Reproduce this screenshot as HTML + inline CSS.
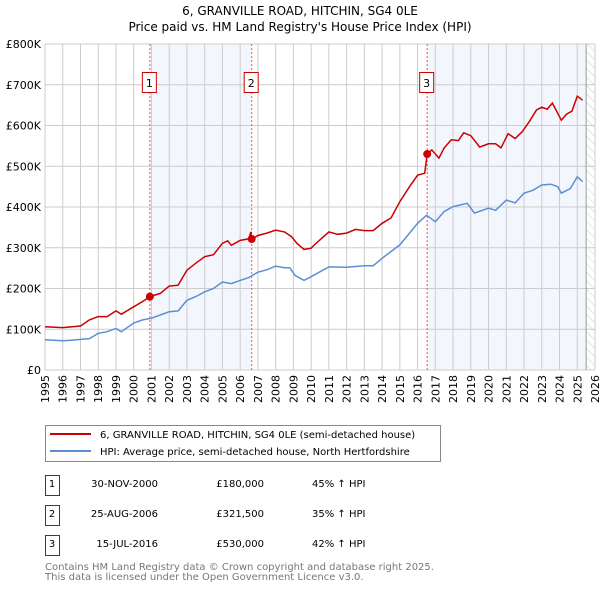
<!DOCTYPE html>
<html><head><meta charset="utf-8"><style>
body{margin:0;background:#fff;font-family:"DejaVu Sans","Liberation Sans",sans-serif;}
svg text{font-family:"DejaVu Sans","Liberation Sans",sans-serif;}
</style></head><body>
<svg id="c" width="600" height="590" viewBox="0 0 600 590" xmlns="http://www.w3.org/2000/svg">
<defs><pattern id="hatch" width="6" height="6" patternUnits="userSpaceOnUse" patternTransform="rotate(-45)"><line x1="0" y1="0" x2="0" y2="6" stroke="#ccc" stroke-width="1"/></pattern></defs>
<text x="300" y="15" text-anchor="middle" font-size="12">6, GRANVILLE ROAD, HITCHIN, SG4 0LE</text>
<text x="300" y="31" text-anchor="middle" font-size="12">Price paid vs. HM Land Registry's House Price Index (HPI)</text>
<g id="plot"></g>
<g id="legend">
<rect x="45.5" y="425.5" width="395" height="36" fill="#fff" stroke="#888"/>
<line x1="50" y1="434" x2="91" y2="434" stroke="#cc0000" stroke-width="2"/>
<text x="100" y="438" font-size="10">6, GRANVILLE ROAD, HITCHIN, SG4 0LE (semi-detached house)</text>
<line x1="50" y1="451" x2="91" y2="451" stroke="#5b8fd4" stroke-width="2"/>
<text x="100" y="455" font-size="10">HPI: Average price, semi-detached house, North Hertfordshire</text>
</g>
<g id="table" font-size="10"></g>
<text x="45" y="570" font-size="10" fill="#777">Contains HM Land Registry data © Crown copyright and database right 2025.</text>
<text x="45" y="580" font-size="10" fill="#777">This data is licensed under the Open Government Licence v3.0.</text>
</svg>
<script>
const yearTicks=[1995,1996,1997,1998,1999,2000,2001,2002,2003,2004,2005,2006,2007,2008,2009,2010,2011,2012,2013,2014,2015,2016,2017,2018,2019,2020,2021,2022,2023,2024,2025,2026];
const valueTicks=[0,100000,200000,300000,400000,500000,600000,700000,800000];
const valueTickLabels=["£0","£100K","£200K","£300K","£400K","£500K","£600K","£700K","£800K"];
const redYears=[1995,1996,1997,1997.5,1998,1998.5,1999,1999.3,2000,2000.5,2000.91,2001.5,2002,2002.5,2003,2003.5,2004,2004.5,2005,2005.3,2005.5,2006,2006.5,2006.6,2006.65,2007,2007.5,2008,2008.5,2008.9,2009.2,2009.6,2010,2010.3,2011,2011.5,2012,2012.5,2013,2013.5,2014,2014.5,2015,2015.55,2016,2016.4,2016.54,2016.8,2017.2,2017.5,2017.9,2018.3,2018.6,2019,2019.5,2020,2020.4,2020.7,2021.1,2021.5,2021.9,2022.3,2022.7,2023,2023.3,2023.6,2023.9,2024.1,2024.4,2024.7,2025,2025.3];
const redValues=[106,104,108,123,131,131,145,137,155,168,180,188,206,208,245,262,278,283,311,317,306,318,322,339,321.5,330,336,343,339,327,311,296,299,312,339,333,336,345,342,342,360,373,413,450,478,483,530,540,520,545,565,563,582,575,547,555,555,545,580,568,585,610,638,645,640,655,630,613,628,635,672,662];
const hpiYears=[1995,1996,1996.5,1997,1997.5,1998,1998.5,1999,1999.3,2000,2000.5,2001,2001.5,2002,2002.5,2003,2003.5,2004,2004.5,2005,2005.5,2006,2006.5,2007,2007.5,2008,2008.5,2008.8,2009.1,2009.6,2010,2011,2012,2013,2013.5,2014,2015,2016,2016.5,2017,2017.5,2018,2018.8,2019.2,2020,2020.4,2021,2021.5,2022,2022.5,2023,2023.5,2023.9,2024.1,2024.6,2025,2025.3];
const hpiValues=[74,72,73,75,77,90,94,102,94,115,123,127,135,143,145,171,180,192,200,216,212,220,227,240,246,255,251,251,232,220,229,253,252,256,256,274,307,360,380,364,389,401,409,385,397,392,417,410,434,441,454,456,450,434,445,474,462];
const saleYears=[2000.91,2006.65,2016.54];
const saleValues=[180000,321500,530000];
const saleLabels=["1","2","3"];
const saleDates=["30-NOV-2000","25-AUG-2006","15-JUL-2016"];
const salePrices=["£180,000","£321,500","£530,000"];
const saleHpi=["45% ↑ HPI","35% ↑ HPI","42% ↑ HPI"];

const X0=45,X1=595,Y0=370,Y1=44;
const xs=y=>X0+(y-1995)/(2026-1995)*(X1-X0);
const ys=v=>Y0-v/800000*(Y0-Y1);
const NS="http://www.w3.org/2000/svg";
const plot=document.getElementById('plot');
function mk(tag,attrs,parent){const e=document.createElementNS(NS,tag);for(const k in attrs)e.setAttribute(k,attrs[k]);(parent||plot).appendChild(e);return e;}
let s1=mk('rect',{x:xs(saleYears[0]),y:Y1,width:xs(saleYears[1])-xs(saleYears[0]),height:Y0-Y1,fill:'#eef3fc',opacity:0.7});


let s2=mk('rect',{x:xs(saleYears[2]),y:Y1,width:xs(2025.5)-xs(saleYears[2]),height:Y0-Y1,fill:'#eef3fc',opacity:0.7});


let h=mk('rect',{x:xs(2025.5),y:Y1,width:X1-xs(2025.5),height:Y0-Y1,fill:'url(#hatch)'});


yearTicks.forEach(yr=>{
  const g=mk('line',{x1:xs(yr),x2:xs(yr),y1:Y1,y2:Y0,stroke:'#ccc','stroke-width':1});
  
  
  const t=mk('text',{x:0,y:0,'font-size':11,'text-anchor':'end',transform:`translate(${xs(yr)+4},${Y0+5}) rotate(-90)`});
  t.textContent=yr;
  
  
});
valueTicks.forEach((v,i)=>{
  const g=mk('line',{x1:X0,x2:X1,y1:ys(v),y2:ys(v),stroke:'#ccc','stroke-width':1});
  
  
  const t=mk('text',{x:X0-4,y:ys(v)+4,'font-size':11,'text-anchor':'end'});
  t.textContent=valueTickLabels[i];
  
  
});
let vl=mk('line',{x1:xs(2025.5),x2:xs(2025.5),y1:Y1,y2:Y0,stroke:'#999','stroke-width':1});


saleYears.forEach((yr,i)=>{
  const l=mk('line',{x1:xs(yr),x2:xs(yr),y1:Y1,y2:Y0,stroke:'#ee5555','stroke-width':1,'stroke-dasharray':'2,2'});
  
  
  const b=mk('rect',{x:xs(yr)-7.5,y:72.5,width:14,height:20,fill:'#fff',stroke:'#cc0000'});
  
  
  const t=mk('text',{x:xs(yr)-0.5,y:87,'font-size':11,'text-anchor':'middle'});
  t.textContent=saleLabels[i];
  
  
});
function path(xa,va){return xa.map((x,i)=>(i?'L':'M')+xs(x).toFixed(1)+','+ys(va[i]*1000).toFixed(1)).join('');}
let hp=mk('path',{d:path(hpiYears,hpiValues),fill:'none',stroke:'#5b8fd4','stroke-width':1.5});


let rp=mk('path',{d:path(redYears,redValues),fill:'none',stroke:'#cc0000','stroke-width':1.5});


saleYears.forEach((yr,i)=>{
  const c=mk('circle',{cx:xs(yr),cy:ys(saleValues[i]),r:4,fill:'#cc0000'});
  
  
});
const tb=document.getElementById('table');
saleDates.forEach((d,i)=>{
  const b=mk('rect',{x:45.5,y:475.5+i*30,width:14,height:20,fill:'#fff',stroke:'#cc0000'},tb);
  
  
  const cells=[[52,saleLabels[i],'middle'],[158,d,'end'],[264,salePrices[i],'end'],[312,saleHpi[i],'start']];
  cells.forEach(c=>{
    const t=mk('text',{x:c[0],y:487+i*30,'text-anchor':c[2]},tb);
    t.textContent=c[1];
    
    
  });
});
</script>
</body></html>
